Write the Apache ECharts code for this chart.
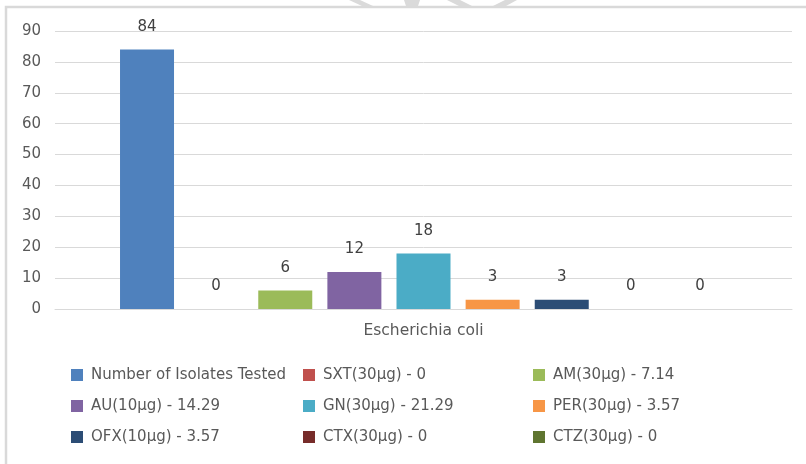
<!DOCTYPE html>
<html><head><meta charset="utf-8">
<script src="https://cdn.jsdelivr.net/npm/echarts@6/dist/echarts.min.js"></script>
<style>html,body{margin:0;padding:0;background:#fff}#c{width:806px;height:464px}</style>
</head><body><div id="c"></div>
<script>
const categories = ["Escherichia coli"];
const seriesNames = ["Number of Isolates Tested","SXT(30µg) - 0","AM(30µg) - 7.14","AU(10µg) - 14.29","GN(30µg) - 21.29","PER(30µg) - 3.57","OFX(10µg) - 3.57","CTX(30µg) - 0","CTZ(30µg) - 0"];
const seriesValues = [84, 0, 6, 12, 18, 3, 3, 0, 0];
const colors = ["#4f81bd","#c0504d","#9bbb59","#8064a2","#4bacc6","#f79646","#2c4d75","#772c2a","#5f7530"];
const yTicks = {min: 0, max: 90, interval: 10};
const legendCols = [[0,3,6],[1,4,7],[2,5,8]];

const font = "DejaVu Sans";
const chart = echarts.init(document.getElementById('c'), null, {renderer:'canvas'});
const legendLefts = [66, 298, 528];
const wm = '#dadada';
chart.setOption({
  animation: false,
  textStyle: {fontFamily: font},
  graphic: [
    {type:'rect', shape:{x:6, y:7, width:830, height:500}, style:{fill:'none', stroke:'#d9d9d9', lineWidth:2.5}, silent:true},
    {type:'polygon', shape:{points:[[349,0],[360,0],[373,6],[362,6]]}, style:{fill:wm}, silent:true},
    {type:'polygon', shape:{points:[[404,0],[420,0],[418,6],[406,6]]}, style:{fill:wm}, silent:true},
    {type:'polygon', shape:{points:[[447,0],[460,0],[472,6],[459,6]]}, style:{fill:wm}, silent:true},
    {type:'polygon', shape:{points:[[505,0],[517,0],[506,6],[493,6]]}, style:{fill:wm}, silent:true}
  ],
  grid: {left: 55, right: 14, top: 31, bottom: 155},
  legend: legendCols.map((col, i) => ({
    orient: 'vertical', left: legendLefts[i], top: 362,
    itemWidth: 12, itemHeight: 12, itemGap: 15, icon: 'rect',
    textStyle: {fontSize: 15, lineHeight: 16, color: '#595959', fontFamily: font, padding:[0,0,0,3]},
    data: col.map(k => seriesNames[k])
  })),
  xAxis: {
    type: 'category', data: categories,
    axisLine: {lineStyle: {color: '#d9d9d9', width: 1}},
    axisTick: {show: false},
    axisLabel: {color: '#595959', fontSize: 15.5, margin: 14}
  },
  yAxis: {
    type: 'value', min: yTicks.min, max: yTicks.max, interval: yTicks.interval,
    axisLine: {show: false}, axisTick: {show: false},
    axisLabel: {color: '#595959', fontSize: 15, margin: 14},
    splitLine: {lineStyle: {color: '#d9d9d9', width: 1}}
  },
  series: seriesNames.map((n, i) => ({
    name: n, type: 'bar', data: [seriesValues[i]],
    barWidth: 54, barGap: '28%',
    itemStyle: {color: colors[i]},
    label: {show: true, position: 'top', distance: 15, color: '#404040', fontSize: 15}
  }))
});
</script></body></html>
